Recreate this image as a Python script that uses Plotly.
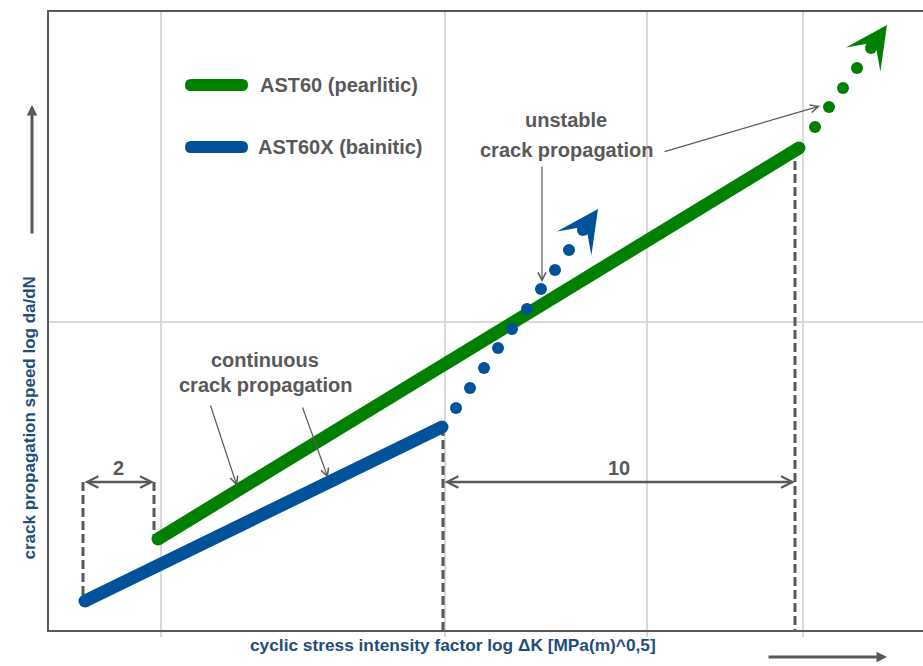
import plotly.graph_objects as go

# ---- data (schematic units: x = log dK, y = log da/dN, arbitrary) ----
green_solid_x = [109, 750]
green_solid_y = [91, 482]
blue_solid_x = [36, 393]
blue_solid_y = [29, 203]

blue_dots_x = [407, 421, 435, 449, 463, 478, 492, 506, 520, 534]
blue_dots_y = [222, 242, 262, 282, 301, 321, 341, 360, 380, 400]
blue_tip = (549, 421)

green_dots_x = [766, 780, 794, 808, 822]
green_dots_y = [503, 523, 542, 562, 582]
green_tip = (838, 605)

grid_x = [112, 396, 598, 754]
grid_y = [308]

# dimension guides
dim_y = 148
dim2_x = [34, 105]
dim10_x = [394, 746]
dim_labels = ["2", "10"]

series_names = ["AST60 (pearlitic)", "AST60X (bainitic)"]

GREEN = "#008000"
BLUE = "#00539B"
GRAY = "#595959"
TITLE = "#1F4E79"
FONT = "Liberation Sans, Arial, sans-serif"

fig = go.Figure()

# dashed guide lines
dash_x = [dim2_x[0], dim2_x[0], None, dim2_x[1], dim2_x[1], None,
          dim10_x[0], dim10_x[0], None, dim10_x[1], dim10_x[1]]
dash_y = [dim_y, blue_solid_y[0], None, dim_y, green_solid_y[0], None,
          blue_solid_y[1], 0, None, green_solid_y[1], 0]
fig.add_trace(go.Scatter(x=dash_x, y=dash_y, mode="lines",
                         line=dict(color=GRAY, width=3, dash="9px,4px"),
                         hoverinfo="skip", showlegend=False))

fig.add_trace(go.Scatter(x=blue_solid_x, y=blue_solid_y, mode="lines+markers",
                         line=dict(color=BLUE, width=13),
                         marker=dict(color=BLUE, size=13),
                         name=series_names[1], showlegend=False))
fig.add_trace(go.Scatter(x=green_solid_x, y=green_solid_y, mode="lines+markers",
                         line=dict(color=GREEN, width=13),
                         marker=dict(color=GREEN, size=13),
                         name=series_names[0], showlegend=False))
fig.add_trace(go.Scatter(x=blue_dots_x, y=blue_dots_y, mode="markers",
                         marker=dict(color=BLUE, size=12),
                         showlegend=False))
fig.add_trace(go.Scatter(x=green_dots_x, y=green_dots_y, mode="markers",
                         marker=dict(color=GREEN, size=12),
                         showlegend=False))

ann = []
# big arrow heads
for tip, col in [(blue_tip, BLUE), (green_tip, GREEN)]:
    ann.append(dict(x=tip[0], y=tip[1], xref="x", yref="y", ax=-8.3, ay=12,
                    showarrow=True, arrowhead=3, arrowsize=3.5, arrowwidth=2,
                    arrowcolor=col, text=""))

# dimension arrows
for xs, lab in [(dim2_x, dim_labels[0]), (dim10_x, dim_labels[1])]:
    ann.append(dict(x=xs[1], y=dim_y, ax=xs[0], ay=dim_y, xref="x", yref="y",
                    axref="x", ayref="y", showarrow=True, arrowside="end+start",
                    arrowhead=5, startarrowhead=5, arrowsize=0.9, startarrowsize=0.9,
                    arrowwidth=2.5, arrowcolor=GRAY, text=""))
    ann.append(dict(x=(xs[0] + xs[1]) / 2, y=dim_y + 14, xref="x", yref="y",
                    text=lab, showarrow=False,
                    font=dict(family=FONT, size=20, color=GRAY, weight="bold")))

# pointer arrows
pointers = [((161, 226), (188, 144)), ((253, 224), (279, 152)),
            ((493, 465), (493, 348)), ((614, 478), (771, 524))]
for tail, head in pointers:
    ann.append(dict(x=head[0], y=head[1], ax=tail[0], ay=tail[1], xref="x", yref="y",
                    axref="x", ayref="y", showarrow=True, arrowhead=5, arrowsize=1.3,
                    arrowwidth=1.2, arrowcolor=GRAY, text=""))

# labels
labels = [("continuous", 216, 270), ("crack propagation", 216, 245),
          ("unstable", 517, 510), ("crack propagation", 517, 480)]
for t, x, y in labels:
    ann.append(dict(x=x, y=y, xref="x", yref="y", text=t, showarrow=False,
                    font=dict(family=FONT, size=20, color=GRAY, weight="bold")))

# legend text
ann.append(dict(x=209, y=545, xref="x", yref="y", text=series_names[0], showarrow=False,
                xanchor="left", font=dict(family=FONT, size=20, color=GRAY, weight="bold")))
ann.append(dict(x=207, y=483, xref="x", yref="y", text=series_names[1], showarrow=False,
                xanchor="left", font=dict(family=FONT, size=20, color=GRAY, weight="bold")))

# axis titles
ann.append(dict(x=0.4617, y=-0.0437, xref="paper", yref="paper", showarrow=False,
                text="cyclic stress intensity factor log \u0394K [MPa(m)^0,5]",
                font=dict(family=FONT, size=17.3, color=TITLE, weight="bold")))
ann.append(dict(x=-0.0355, y=0.343, xref="paper", yref="paper", showarrow=False,
                textangle=-90, text="crack propagation speed log da/dN",
                font=dict(family=FONT, size=17, color=TITLE, weight="bold")))
# axis direction arrows
ann.append(dict(x=-17 / 874, y=525 / 618, xref="paper", yref="paper", ax=0, ay=130,
                showarrow=True, arrowhead=2, arrowsize=0.7, arrowwidth=3,
                arrowcolor=GRAY, text=""))
ann.append(dict(x=838 / 874, y=-27 / 618, xref="paper", yref="paper", ax=-120, ay=0,
                showarrow=True, arrowhead=2, arrowsize=0.7, arrowwidth=3,
                arrowcolor=GRAY, text=""))

# legend sample bars (rounded)
def bar_path(x0, x1, y, r):
    return (f"M{x0},{y - r} L{x1},{y - r} Q{x1 + r},{y - r} {x1 + r},{y} "
            f"Q{x1 + r},{y + r} {x1},{y + r} L{x0},{y + r} "
            f"Q{x0 - r},{y + r} {x0 - r},{y} Q{x0 - r},{y - r} {x0},{y - r} Z")

shapes = [
    dict(type="path", xref="x", yref="y", path=bar_path(142, 193, 545, 6),
         fillcolor=GREEN, line=dict(width=0)),
    dict(type="path", xref="x", yref="y", path=bar_path(142, 193, 483, 6),
         fillcolor=BLUE, line=dict(width=0)),
]

fig.update_layout(
    width=923, height=666,
    margin=dict(l=49, r=0, t=12, b=36),
    paper_bgcolor="white", plot_bgcolor="white",
    showlegend=False,
    annotations=ann, shapes=shapes,
    xaxis=dict(range=[0, 874], tickvals=grid_x, showticklabels=False,
               showgrid=True, gridcolor="#d9d9d9", gridwidth=1.5,
               ticks="outside", ticklen=5, tickcolor="#d9d9d9", tickwidth=1.5,
               showline=True, linecolor=GRAY, linewidth=2, mirror=True,
               zeroline=False, fixedrange=True),
    yaxis=dict(range=[0, 618], tickvals=grid_y, showticklabels=False,
               showgrid=True, gridcolor="#d9d9d9", gridwidth=1.5, ticks="",
               showline=True, linecolor=GRAY, linewidth=2,
               zeroline=False, fixedrange=True),
)

fig.write_html("out.html", config={"displayModeBar": False},
               post_script="document.body.style.margin='0px';")
